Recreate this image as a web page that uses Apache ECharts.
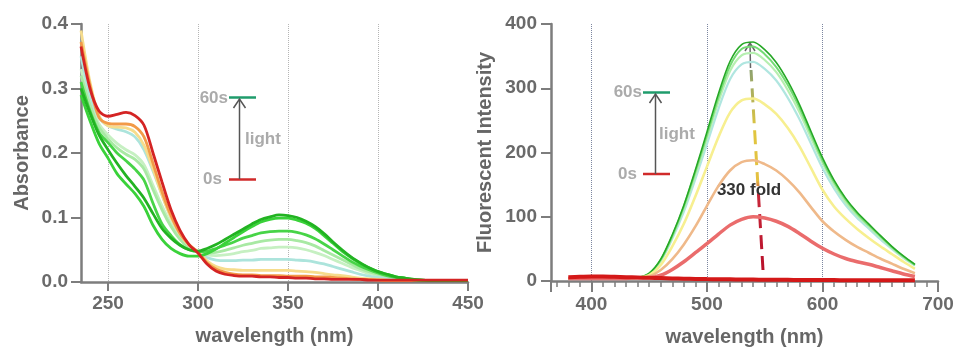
<!DOCTYPE html>
<html><head><meta charset="utf-8">
<script src="https://cdn.jsdelivr.net/npm/echarts@6/dist/echarts.min.js"></script>
<style>html,body{margin:0;padding:0;background:#fff}#c{width:957px;height:352px}</style>
</head><body><div id="c"></div>
<script>
// ---------- Absorbance (left) ----------
const absWavelength = [235, 240, 245, 250, 255, 260, 265, 270, 275, 280, 285, 290, 295, 300, 305, 310, 315, 320, 325, 330, 335, 340, 345, 350, 355, 360, 365, 370, 375, 380, 385, 390, 395, 400, 405, 410, 415, 420, 425, 430, 435, 440, 445, 450];
const abs0s  = [0.365, 0.300, 0.265, 0.257, 0.260, 0.263, 0.258, 0.243, 0.200, 0.155, 0.112, 0.080, 0.058, 0.045, 0.028, 0.017, 0.012, 0.010, 0.009, 0.009, 0.008, 0.008, 0.007, 0.007, 0.006, 0.006, 0.005, 0.005, 0.004, 0.004, 0.004, 0.004, 0.003, 0.003, 0.003, 0.003, 0.003, 0.003, 0.003, 0.003, 0.003, 0.003, 0.003, 0.003];
const abs10s = [0.372, 0.305, 0.255, 0.246, 0.245, 0.245, 0.241, 0.225, 0.184, 0.140, 0.103, 0.075, 0.058, 0.046, 0.030, 0.020, 0.015, 0.012, 0.011, 0.011, 0.010, 0.010, 0.010, 0.009, 0.009, 0.009, 0.008, 0.008, 0.007, 0.006, 0.005, 0.004, 0.004, 0.003, 0.002, 0.002, 0.002, 0.002, 0.002, 0.002, 0.002, 0.002, 0.002, 0.002];
const abs20s = [0.390, 0.310, 0.258, 0.242, 0.240, 0.239, 0.232, 0.212, 0.175, 0.135, 0.100, 0.074, 0.057, 0.047, 0.033, 0.024, 0.020, 0.019, 0.018, 0.018, 0.018, 0.018, 0.018, 0.018, 0.017, 0.016, 0.015, 0.013, 0.011, 0.010, 0.008, 0.006, 0.005, 0.004, 0.003, 0.002, 0.002, 0.002, 0.002, 0.002, 0.002, 0.002, 0.002, 0.002];
const abs30s = [0.350, 0.290, 0.255, 0.242, 0.237, 0.233, 0.225, 0.205, 0.172, 0.135, 0.100, 0.074, 0.057, 0.047, 0.038, 0.034, 0.033, 0.033, 0.034, 0.034, 0.035, 0.035, 0.035, 0.035, 0.034, 0.033, 0.031, 0.028, 0.024, 0.020, 0.016, 0.012, 0.009, 0.007, 0.005, 0.004, 0.003, 0.002, 0.002, 0.002, 0.002, 0.002, 0.002, 0.002];
const abs40s = [0.330, 0.280, 0.245, 0.228, 0.215, 0.205, 0.197, 0.182, 0.150, 0.118, 0.090, 0.068, 0.054, 0.047, 0.042, 0.041, 0.042, 0.044, 0.047, 0.049, 0.052, 0.053, 0.054, 0.054, 0.053, 0.050, 0.046, 0.041, 0.035, 0.029, 0.023, 0.018, 0.013, 0.010, 0.007, 0.005, 0.004, 0.003, 0.002, 0.002, 0.002, 0.002, 0.002, 0.002];
const abs45s = [0.320, 0.275, 0.240, 0.222, 0.208, 0.198, 0.190, 0.175, 0.143, 0.112, 0.086, 0.066, 0.053, 0.047, 0.045, 0.046, 0.049, 0.053, 0.057, 0.060, 0.063, 0.065, 0.066, 0.066, 0.064, 0.061, 0.056, 0.049, 0.042, 0.035, 0.028, 0.021, 0.016, 0.012, 0.008, 0.006, 0.004, 0.003, 0.002, 0.002, 0.002, 0.002, 0.002, 0.002];
const abs50s = [0.310, 0.265, 0.232, 0.216, 0.200, 0.188, 0.175, 0.158, 0.122, 0.090, 0.072, 0.058, 0.050, 0.047, 0.048, 0.052, 0.057, 0.062, 0.068, 0.072, 0.076, 0.078, 0.079, 0.079, 0.077, 0.073, 0.067, 0.059, 0.050, 0.041, 0.032, 0.025, 0.019, 0.014, 0.010, 0.007, 0.005, 0.003, 0.002, 0.002, 0.002, 0.002, 0.002, 0.002];
const abs55s = [0.290, 0.250, 0.215, 0.192, 0.168, 0.152, 0.137, 0.117, 0.088, 0.066, 0.052, 0.044, 0.040, 0.040, 0.044, 0.051, 0.060, 0.069, 0.078, 0.086, 0.093, 0.097, 0.099, 0.099, 0.096, 0.091, 0.083, 0.072, 0.060, 0.048, 0.038, 0.029, 0.022, 0.016, 0.012, 0.008, 0.006, 0.004, 0.003, 0.002, 0.002, 0.002, 0.002, 0.002];
const abs60s = [0.300, 0.262, 0.228, 0.205, 0.184, 0.165, 0.148, 0.130, 0.106, 0.083, 0.068, 0.057, 0.050, 0.048, 0.052, 0.058, 0.066, 0.074, 0.082, 0.090, 0.097, 0.101, 0.104, 0.103, 0.100, 0.094, 0.086, 0.075, 0.062, 0.050, 0.039, 0.030, 0.022, 0.016, 0.012, 0.008, 0.006, 0.004, 0.003, 0.002, 0.002, 0.002, 0.002, 0.002];

// ---------- Fluorescence (right) ----------
const flWavelength = [380, 390, 400, 410, 420, 430, 440, 450, 460, 470, 480, 490, 500, 510, 520, 530, 540, 550, 560, 570, 580, 590, 600, 610, 620, 630, 640, 650, 660, 670, 680];
const fl60s = [4, 4, 4, 4, 4, 4, 5, 12, 34, 72, 118, 173, 232, 292, 342, 368, 372, 360, 340, 311, 275, 233, 192, 157, 129, 107, 89, 71, 54, 39, 26];
const fl50s = [4, 4, 4, 4, 4, 4, 5, 12, 33, 70, 116, 170, 227, 286, 335, 361, 365, 353, 333, 305, 270, 229, 188, 154, 127, 105, 87, 70, 53, 38, 25];
const fl40s = [4, 4, 4, 4, 4, 4, 5, 11, 32, 69, 113, 165, 222, 279, 327, 351, 355, 344, 325, 297, 263, 223, 184, 150, 123, 102, 85, 68, 52, 37, 25];
const fl30s = [4, 4, 4, 4, 4, 4, 5, 11, 31, 66, 108, 159, 213, 268, 314, 337, 341, 330, 312, 285, 252, 214, 176, 144, 118, 98, 82, 65, 50, 36, 24];
const fl20s = [4, 4, 4, 4, 4, 4, 5, 9, 25, 54, 89, 132, 178, 224, 262, 281, 284, 275, 260, 238, 210, 176, 142, 116, 97, 81, 67, 54, 42, 30, 19];
const fl10s = [4, 4, 4, 4, 4, 4, 5, 7, 17, 34, 57, 85, 117, 148, 172, 185, 188, 182, 172, 157, 138, 115, 93, 77, 64, 53, 44, 35, 27, 19, 12];
const fl0s  = [4, 4, 4, 4, 4, 4, 5, 5, 9, 18, 30, 44, 58, 73, 87, 96, 100, 98, 93, 85, 74, 62, 51, 42, 35, 30, 26, 21, 16, 11, 7];
const flBaseline = [6, 6.5, 7, 7, 6.5, 6, 5.5, 5, 4.5, 4, 3.6, 3.3, 3, 2.8, 2.6, 2.4, 2.2, 2, 1.9, 1.8, 1.7, 1.6, 1.5, 1.4, 1.3, 1.3, 1.2, 1.2, 1.1, 1, 1];

const FONT = "'Liberation Sans', Arial, sans-serif";
const AXIS_GRAY = '#7d7d7d';
const LABEL_GRAY = '#6a6a6a';
const NOTE_GRAY = '#ababab';

function zip(xs, ys) { return xs.map((x, i) => [x, ys[i]]); }

function absSeries(vals, color, width) {
  return { type: 'line', xAxisIndex: 0, yAxisIndex: 0, data: zip(absWavelength, vals),
    showSymbol: false, smooth: 0.3, lineStyle: { color: color, width: width || 2.8 }, silent: true };
}
function flSeries(vals, color, width) {
  return { type: 'line', xAxisIndex: 1, yAxisIndex: 1, data: zip(flWavelength, vals),
    showSymbol: false, smooth: 0.3, lineStyle: { color: color, width: width || 2 }, silent: true };
}

const chart = echarts.init(document.getElementById('c'), null, { renderer: 'canvas' });

const axisCommon = {
  axisLine: { show: true, lineStyle: { color: AXIS_GRAY, width: 2.5 } },
  axisLabel: { color: LABEL_GRAY, fontSize: 19, fontWeight: 'bold', fontFamily: FONT },
  nameTextStyle: { color: '#666', fontSize: 20, fontWeight: 'bold', fontFamily: FONT },
};

const option = {
  animation: false,
  backgroundColor: '#fff',
  grid: [
    { left: 81, right: 489, top: 24, bottom: 70 },
    { left: 551, right: 19, top: 24, bottom: 70 }
  ],
  xAxis: [
    Object.assign({}, axisCommon, {
      type: 'value', gridIndex: 0, min: 235, max: 450, minInterval: 50, maxInterval: 50,
      name: 'wavelength (nm)', nameLocation: 'middle', nameGap: 44,
      axisTick: { show: true, length: 9, lineStyle: { color: AXIS_GRAY, width: 2 } },
      axisLabel: Object.assign({}, axisCommon.axisLabel, { margin: 12, showMinLabel: false,
        formatter: v => (v % 50 === 0 ? String(v) : '') }),
      splitLine: { show: true, showMinLine: false, showMaxLine: false, lineStyle: { color: '#b5b5b5', type: 'dotted', width: 1 } }
    }),
    Object.assign({}, axisCommon, {
      type: 'value', gridIndex: 1, min: 365, max: 700, minInterval: 100, maxInterval: 100,
      name: 'wavelength (nm)', nameLocation: 'middle', nameGap: 46,
      axisTick: { show: true, length: 11, lineStyle: { color: AXIS_GRAY, width: 2 } },
      minorTick: { show: true, splitNumber: 10, length: 6, lineStyle: { color: AXIS_GRAY, width: 1.5 } },
      axisLabel: Object.assign({}, axisCommon.axisLabel, { margin: 14, showMinLabel: false,
        formatter: v => (v % 100 === 0 ? String(v) : '') }),
      splitLine: { show: true, showMinLine: false, showMaxLine: false, lineStyle: { color: '#7c86a0', type: 'dotted', width: 1 } }
    })
  ],
  yAxis: [
    Object.assign({}, axisCommon, {
      type: 'value', gridIndex: 0, min: 0, max: 0.4, interval: 0.1,
      name: 'Absorbance', nameLocation: 'middle', nameGap: 49,
      axisTick: { show: true, length: 10, lineStyle: { color: AXIS_GRAY, width: 2 } },
      axisLabel: Object.assign({}, axisCommon.axisLabel, { margin: 13, formatter: v => v.toFixed(1) }),
      splitLine: { show: false }
    }),
    Object.assign({}, axisCommon, {
      type: 'value', gridIndex: 1, min: 0, max: 400, interval: 100,
      name: 'Fluorescent Intensity', nameLocation: 'middle', nameGap: 56,
      axisTick: { show: true, length: 10, lineStyle: { color: AXIS_GRAY, width: 2 } },
      axisLabel: Object.assign({}, axisCommon.axisLabel, { margin: 14 }),
      splitLine: { show: false }
    })
  ],
  series: [
    absSeries(abs40s, '#c6f0c2'),
    absSeries(abs45s, '#a8e9a3'),
    absSeries(abs30s, '#ace4dc'),
    absSeries(abs20s, '#f6dc8c'),
    absSeries(abs10s, '#f29a48'),
    absSeries(abs50s, '#47d447'),
    absSeries(abs55s, '#3ad23a'),
    absSeries(abs60s, '#22b322'),
    absSeries(abs0s, '#d42424'),

    flSeries(fl30s, '#b0e6e0', 2.2),
    flSeries(fl40s, '#b6efb0', 2.2),
    flSeries(fl50s, '#74dc74', 2),
    flSeries(fl60s, '#26a826', 1.6),
    flSeries(fl20s, '#f7ef90', 2.6),
    flSeries(fl10s, '#efb98a', 2.6),
    flSeries(fl0s, '#ea6c6c', 3.5),
    flSeries(flBaseline, '#d41818', 4)
  ],
  graphic: [
    // left annotation
    { type: 'text', x: 228, y: 98, style: { text: '60s', align: 'right', verticalAlign: 'middle', fill: NOTE_GRAY, font: 'bold 17px ' + FONT } },
    { type: 'text', x: 222, y: 179, style: { text: '0s', align: 'right', verticalAlign: 'middle', fill: NOTE_GRAY, font: 'bold 17px ' + FONT } },
    { type: 'text', x: 245, y: 139, style: { text: 'light', align: 'left', verticalAlign: 'middle', fill: NOTE_GRAY, font: 'bold 17px ' + FONT } },
    { type: 'line', shape: { x1: 229, y1: 97.5, x2: 256, y2: 97.5 }, style: { stroke: '#1f9c6c', lineWidth: 2.5 } },
    { type: 'line', shape: { x1: 229, y1: 179.5, x2: 256, y2: 179.5 }, style: { stroke: '#d02a2a', lineWidth: 2.5 } },
    { type: 'line', shape: { x1: 239.5, y1: 179, x2: 239.5, y2: 99 }, style: { stroke: '#555', lineWidth: 1.5 } },
    { type: 'polyline', shape: { points: [[233.5, 108], [239.5, 99], [245.5, 108]] }, style: { stroke: '#555', lineWidth: 1.5, fill: null } },
    // right annotation
    { type: 'text', x: 642, y: 92.5, style: { text: '60s', align: 'right', verticalAlign: 'middle', fill: NOTE_GRAY, font: 'bold 17px ' + FONT } },
    { type: 'text', x: 637, y: 174, style: { text: '0s', align: 'right', verticalAlign: 'middle', fill: NOTE_GRAY, font: 'bold 17px ' + FONT } },
    { type: 'text', x: 659, y: 134, style: { text: 'light', align: 'left', verticalAlign: 'middle', fill: NOTE_GRAY, font: 'bold 17px ' + FONT } },
    { type: 'line', shape: { x1: 643, y1: 92.5, x2: 670, y2: 92.5 }, style: { stroke: '#1f9c6c', lineWidth: 2.5 } },
    { type: 'line', shape: { x1: 643, y1: 174, x2: 670, y2: 174 }, style: { stroke: '#d02a2a', lineWidth: 2.5 } },
    { type: 'line', shape: { x1: 655.5, y1: 174, x2: 655.5, y2: 94 }, style: { stroke: '#555', lineWidth: 1.5 } },
    { type: 'polyline', shape: { points: [[649.5, 103], [655.5, 94], [661.5, 103]] }, style: { stroke: '#555', lineWidth: 1.5, fill: null } },
    // peak arrow + dashed gradient line
    { type: 'line', shape: { x1: 763, y1: 270, x2: 751, y2: 70 },
      style: { stroke: new echarts.graphic.LinearGradient(0, 0, 0, 1, [
        { offset: 0, color: '#8aa070' }, { offset: 0.3, color: '#e0c640' }, { offset: 0.55, color: '#e4c040' },
        { offset: 0.62, color: '#c8283a' }, { offset: 1, color: '#b8102a' }]), lineWidth: 3, lineDash: [14, 7] } },
    { type: 'line', shape: { x1: 750.5, y1: 68, x2: 750, y2: 43 }, style: { stroke: '#666', lineWidth: 1.5 } },
    { type: 'polyline', shape: { points: [[745, 51], [750, 43], [755, 51]] }, style: { stroke: '#666', lineWidth: 1.5, fill: null } },
    { type: 'text', x: 749, y: 190, style: { text: '330 fold', align: 'center', verticalAlign: 'middle', fill: '#333', font: 'bold 17px ' + FONT } }
  ]
};
chart.setOption(option);
</script>
</body></html>
